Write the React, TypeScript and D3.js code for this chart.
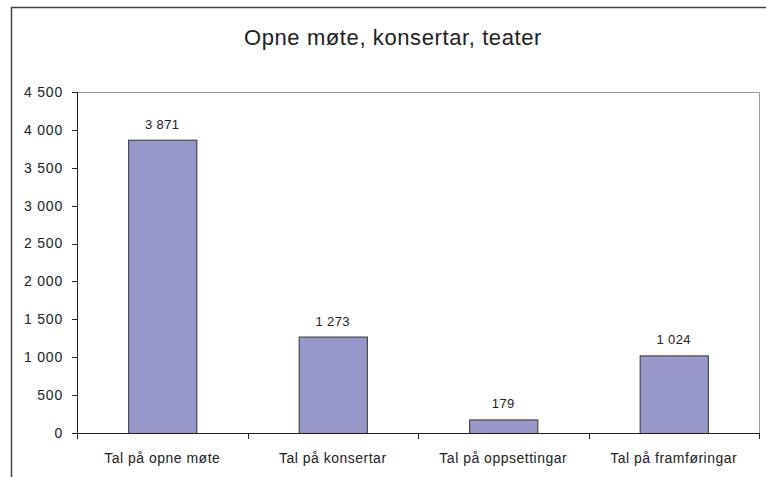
import React from 'react';
import * as d3 from 'd3';

const categories = ['Tal på opne møte', 'Tal på konsertar', 'Tal på oppsettingar', 'Tal på framføringar'];
const values = [3871, 1273, 179, 1024];
const yTicks = [0, 500, 1000, 1500, 2000, 2500, 3000, 3500, 4000, 4500];
const title = 'Opne møte, konsertar, teater';

const W = 766, H = 477;
const plot = { left: 77, top: 92, right: 759, bottom: 433 };
const font = 'Arial, "Liberation Sans", sans-serif';

// space as thousands separator, like the original
const fmt = (v: number) => d3.format(',')(v).replace(/,/g, ' ');

const App = () => {
  const x = d3.scaleBand<string>()
    .domain(categories)
    .range([plot.left, plot.right])
    .paddingInner(0.6)
    .paddingOuter(0.3);
  const y = d3.scaleLinear().domain([0, 4500]).range([plot.bottom, plot.top]);
  const band = (plot.right - plot.left) / categories.length;

  return (
    <svg width={W} height={H} style={{ position: 'absolute', left: 0, top: 0, background: '#fff' }}
      fontFamily={font}>
      <rect x={11.5} y={7.5} width={W} height={H} fill="#fff" stroke="#444" strokeWidth={1.5} />
      <text x={393} y={45} textAnchor="middle" fontSize={22} letterSpacing={0.6} fill="#222">{title}</text>

      {/* plot frame: grey top and right */}
      <path d={`M${plot.left},${plot.top + 0.5}H${plot.right + 0.5}V${plot.bottom}`} fill="none" stroke="#999" />

      {categories.map((c, i) => (
        <g key={c}>
          <rect x={x(c)! + 0.5} y={y(values[i]) + 0.5} width={x.bandwidth()} height={y(0) - y(values[i])}
            fill="#9797c9" stroke="#333" strokeWidth={1} />
          <text x={x(c)! + x.bandwidth() / 2} y={y(values[i]) - 11} textAnchor="middle" fontSize={13}
            letterSpacing={0.4} fill="#222">
            {fmt(values[i])}
          </text>
          <text x={x(c)! + x.bandwidth() / 2} y={463} textAnchor="middle" fontSize={14}
            letterSpacing={0.5} fill="#222">{c}</text>
        </g>
      ))}

      {/* y axis */}
      <line x1={plot.left + 0.5} x2={plot.left + 0.5} y1={plot.top} y2={plot.bottom} stroke="#222" />
      {yTicks.map(t => (
        <g key={t}>
          <line x1={plot.left - 5} x2={plot.left} y1={Math.round(y(t)) + 0.5} y2={Math.round(y(t)) + 0.5} stroke="#222" />
          <text x={63} y={y(t)} dy="0.35em" textAnchor="end" fontSize={14} letterSpacing={0.8} fill="#222">{fmt(t)}</text>
        </g>
      ))}

      {/* x axis */}
      <line x1={plot.left} x2={plot.right + 1} y1={plot.bottom + 0.5} y2={plot.bottom + 0.5} stroke="#222" />
      {d3.range(categories.length + 1).map(i => {
        const bx = Math.round(plot.left + i * band) + 0.5;
        return <line key={i} x1={bx} x2={bx} y1={plot.bottom} y2={plot.bottom + 6} stroke="#222" />;
      })}
    </svg>
  );
};

export default App;
